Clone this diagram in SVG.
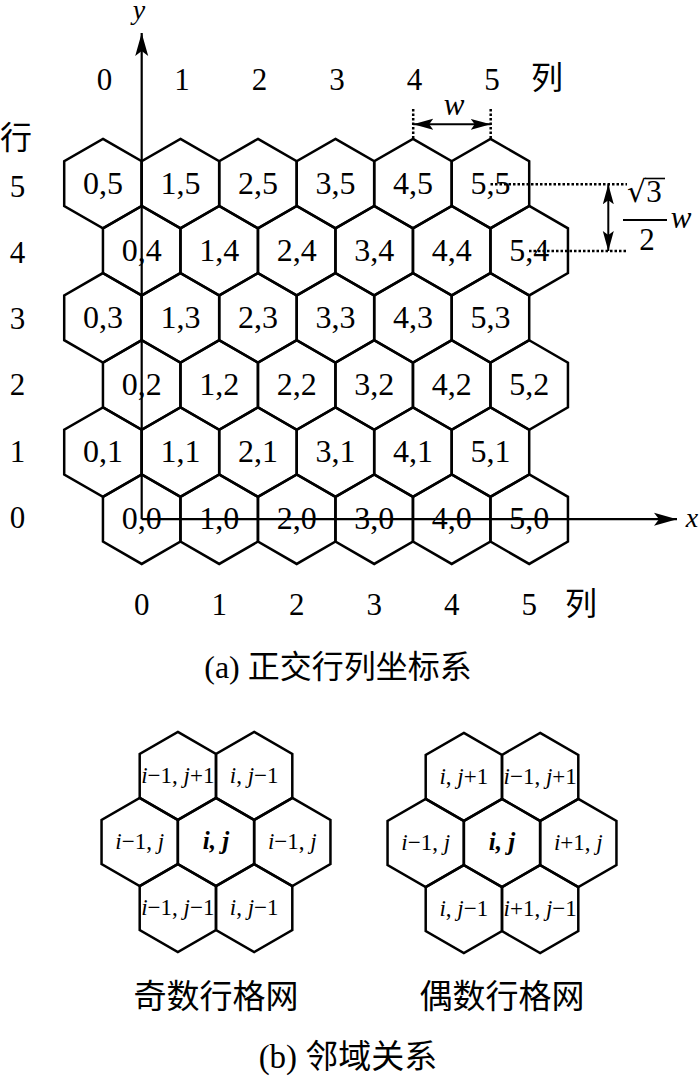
<svg xmlns="http://www.w3.org/2000/svg" xmlns:xlink="http://www.w3.org/1999/xlink" width="700" height="1077" viewBox="0 0 700 1077">
<style>
.hx use{fill:none;stroke:#000;stroke-width:2.5;stroke-linejoin:miter}
text{stroke:none}
.n{font-family:"Liberation Serif",serif;font-size:32px;text-anchor:middle;fill:#000}
.lab{font-family:"Liberation Serif",serif;font-size:31px;text-anchor:middle;fill:#000}
.cjk{font-family:"Liberation Serif","Noto Sans CJK SC",sans-serif;font-size:32px;text-anchor:middle;fill:#000}
.cap{font-family:"Liberation Serif","Noto Sans CJK SC",sans-serif;font-size:33px;text-anchor:middle;fill:#000}
.b{font-family:"Liberation Serif",serif;font-size:23px;text-anchor:middle;fill:#000}
.bc{font-family:"Liberation Serif",serif;font-size:25px;text-anchor:middle;fill:#000;font-weight:bold;font-style:italic}
.it{font-style:italic}
.ax{stroke:#000;stroke-width:2.2;fill:none}
.dim{stroke:#000;stroke-width:2;fill:none}
.dot{stroke:#000;stroke-width:2.5;stroke-dasharray:2.5 2;fill:none}
</style>
<defs>
<polygon id="hex" points="0,-44.75 38.75,-22.37 38.75,22.37 0,44.75 -38.75,22.37 -38.75,-22.37"/>
<polygon id="hexb" points="0,-44.05 38.15,-22.02 38.15,22.02 0,44.05 -38.15,22.02 -38.15,-22.02"/>
<marker id="axA" viewBox="0 0 24 14" markerWidth="24" markerHeight="14" refX="23" refY="7" orient="auto" markerUnits="userSpaceOnUse"><path d="M0,0.5 L23,7 L0,13.5 L5,7 Z" fill="#000"/></marker>
<marker id="dA" viewBox="0 0 21 12" markerWidth="21" markerHeight="12" refX="20" refY="6" orient="auto-start-reverse" markerUnits="userSpaceOnUse"><path d="M0,0.5 L20,6 L0,11.5 L4,6 Z" fill="#000"/></marker>
</defs>
<rect width="700" height="1077" fill="#fff"/>

<!-- (a) grid -->
<g id="grid" class="hx">
<g id="h0_5"><use href="#hex" x="102.95" y="183.6"/><text class="n" x="102.95" y="193.6">0,5</text></g>
<g id="h1_5"><use href="#hex" x="180.45" y="183.6"/><text class="n" x="180.45" y="193.6">1,5</text></g>
<g id="h2_5"><use href="#hex" x="257.95" y="183.6"/><text class="n" x="257.95" y="193.6">2,5</text></g>
<g id="h3_5"><use href="#hex" x="335.45" y="183.6"/><text class="n" x="335.45" y="193.6">3,5</text></g>
<g id="h4_5"><use href="#hex" x="412.95" y="183.6"/><text class="n" x="412.95" y="193.6">4,5</text></g>
<g id="h5_5"><use href="#hex" x="490.45" y="183.6"/><text class="n" x="490.45" y="193.6">5,5</text></g>

<g id="h0_4"><use href="#hex" x="141.7" y="250.7"/><text class="n" x="141.7" y="260.7">0,4</text></g>
<g id="h1_4"><use href="#hex" x="219.2" y="250.7"/><text class="n" x="219.2" y="260.7">1,4</text></g>
<g id="h2_4"><use href="#hex" x="296.7" y="250.7"/><text class="n" x="296.7" y="260.7">2,4</text></g>
<g id="h3_4"><use href="#hex" x="374.2" y="250.7"/><text class="n" x="374.2" y="260.7">3,4</text></g>
<g id="h4_4"><use href="#hex" x="451.7" y="250.7"/><text class="n" x="451.7" y="260.7">4,4</text></g>
<g id="h5_4"><use href="#hex" x="529.2" y="250.7"/><text class="n" x="529.2" y="260.7">5,4</text></g>

<g id="h0_3"><use href="#hex" x="102.95" y="317.8"/><text class="n" x="102.95" y="327.8">0,3</text></g>
<g id="h1_3"><use href="#hex" x="180.45" y="317.8"/><text class="n" x="180.45" y="327.8">1,3</text></g>
<g id="h2_3"><use href="#hex" x="257.95" y="317.8"/><text class="n" x="257.95" y="327.8">2,3</text></g>
<g id="h3_3"><use href="#hex" x="335.45" y="317.8"/><text class="n" x="335.45" y="327.8">3,3</text></g>
<g id="h4_3"><use href="#hex" x="412.95" y="317.8"/><text class="n" x="412.95" y="327.8">4,3</text></g>
<g id="h5_3"><use href="#hex" x="490.45" y="317.8"/><text class="n" x="490.45" y="327.8">5,3</text></g>

<g id="h0_2"><use href="#hex" x="141.7" y="385.0"/><text class="n" x="141.7" y="395">0,2</text></g>
<g id="h1_2"><use href="#hex" x="219.2" y="385.0"/><text class="n" x="219.2" y="395">1,2</text></g>
<g id="h2_2"><use href="#hex" x="296.7" y="385.0"/><text class="n" x="296.7" y="395">2,2</text></g>
<g id="h3_2"><use href="#hex" x="374.2" y="385.0"/><text class="n" x="374.2" y="395">3,2</text></g>
<g id="h4_2"><use href="#hex" x="451.7" y="385.0"/><text class="n" x="451.7" y="395">4,2</text></g>
<g id="h5_2"><use href="#hex" x="529.2" y="385.0"/><text class="n" x="529.2" y="395">5,2</text></g>

<g id="h0_1"><use href="#hex" x="102.95" y="452.1"/><text class="n" x="102.95" y="462.1">0,1</text></g>
<g id="h1_1"><use href="#hex" x="180.45" y="452.1"/><text class="n" x="180.45" y="462.1">1,1</text></g>
<g id="h2_1"><use href="#hex" x="257.95" y="452.1"/><text class="n" x="257.95" y="462.1">2,1</text></g>
<g id="h3_1"><use href="#hex" x="335.45" y="452.1"/><text class="n" x="335.45" y="462.1">3,1</text></g>
<g id="h4_1"><use href="#hex" x="412.95" y="452.1"/><text class="n" x="412.95" y="462.1">4,1</text></g>
<g id="h5_1"><use href="#hex" x="490.45" y="452.1"/><text class="n" x="490.45" y="462.1">5,1</text></g>

<g id="h0_0"><use href="#hex" x="141.7" y="519.2"/><text class="n" x="141.7" y="529.2">0,0</text></g>
<g id="h1_0"><use href="#hex" x="219.2" y="519.2"/><text class="n" x="219.2" y="529.2">1,0</text></g>
<g id="h2_0"><use href="#hex" x="296.7" y="519.2"/><text class="n" x="296.7" y="529.2">2,0</text></g>
<g id="h3_0"><use href="#hex" x="374.2" y="519.2"/><text class="n" x="374.2" y="529.2">3,0</text></g>
<g id="h4_0"><use href="#hex" x="451.7" y="519.2"/><text class="n" x="451.7" y="529.2">4,0</text></g>
<g id="h5_0"><use href="#hex" x="529.2" y="519.2"/><text class="n" x="529.2" y="529.2">5,0</text></g>
</g>

<!-- connectors: axes and dimensions -->
<g id="connectors">
<line class="ax" x1="141.7" y1="519.2" x2="141.7" y2="33" marker-end="url(#axA)"/>
<line class="ax" x1="141.7" y1="519.2" x2="677" y2="519.2" marker-end="url(#axA)"/>
<line class="dot" x1="413.2" y1="109" x2="413.2" y2="139"/>
<line class="dot" x1="490.7" y1="109" x2="490.7" y2="139"/>
<line class="dim" x1="413.2" y1="124.3" x2="490.7" y2="124.3" marker-start="url(#dA)" marker-end="url(#dA)"/>
<line class="dot" x1="490.5" y1="184.3" x2="627" y2="184.3"/>
<line class="dot" x1="529" y1="251" x2="627" y2="251"/>
<line class="dim" x1="608.3" y1="184.3" x2="608.3" y2="251" marker-start="url(#dA)" marker-end="url(#dA)"/>
<line class="dim" x1="623" y1="220" x2="667" y2="220"/>
</g>

<!-- axis labels -->
<g id="labels">
<text class="lab it" x="139" y="19" style="font-size:28px">y</text>
<text class="lab it" x="692" y="527" style="font-size:28px">x</text>
<text class="lab it" x="454" y="115" style="font-size:31px">w</text>
<g id="frac">
<text class="lab" x="627" y="202" style="font-size:31px;text-anchor:start"><tspan style="font-family:'DejaVu Serif',serif;font-size:30px">√</tspan>3</text>
<line class="dim" x1="645" y1="178.5" x2="665" y2="178.5" style="stroke-width:1.6"/>
<text class="lab" x="647" y="250" style="font-size:31px">2</text>
<text class="lab it" x="681" y="228" style="font-size:31px">w</text>
</g>

<text class="lab" x="104.5" y="90">0</text>
<text class="lab" x="182" y="90">1</text>
<text class="lab" x="259.5" y="90">2</text>
<text class="lab" x="337" y="90">3</text>
<text class="lab" x="414.5" y="90">4</text>
<text class="lab" x="492" y="90">5</text>
<text class="cjk" x="547" y="89">列</text>

<text class="lab" x="141.7" y="615">0</text>
<text class="lab" x="219.2" y="615">1</text>
<text class="lab" x="296.7" y="615">2</text>
<text class="lab" x="374.2" y="615">3</text>
<text class="lab" x="451.7" y="615">4</text>
<text class="lab" x="529.2" y="615">5</text>
<text class="cjk" x="581" y="615">列</text>

<text class="cjk" x="16" y="149">行</text>
<text class="lab" x="17.5" y="197">5</text>
<text class="lab" x="17.5" y="263">4</text>
<text class="lab" x="17.5" y="329">3</text>
<text class="lab" x="17.5" y="395">2</text>
<text class="lab" x="17.5" y="462">1</text>
<text class="lab" x="17.5" y="528">0</text>

<text class="cap" x="338" y="678" style="font-size:32px">(a) 正交行列坐标系</text>
</g>

<!-- (b) odd row cluster -->
<g id="odd" class="hx">
<g id="o_tl"><use href="#hexb" x="177.85" y="775.9"/><text class="b" x="177.85" y="783"><tspan class="it">i</tspan>−1, <tspan class="it">j</tspan>+1</text></g>
<g id="o_tr"><use href="#hexb" x="254.15" y="775.9"/><text class="b" x="254.15" y="783"><tspan class="it">i</tspan>, <tspan class="it">j</tspan>−1</text></g>
<g id="o_ml"><use href="#hexb" x="139.7" y="842"/><text class="b" x="139.7" y="849"><tspan class="it">i</tspan>−1, <tspan class="it">j</tspan></text></g>
<g id="o_c"><use href="#hexb" x="216" y="842"/><text class="bc" x="216" y="849">i, j</text></g>
<g id="o_mr"><use href="#hexb" x="292.3" y="842"/><text class="b" x="292.3" y="849"><tspan class="it">i</tspan>−1, <tspan class="it">j</tspan></text></g>
<g id="o_bl"><use href="#hexb" x="177.85" y="908.1"/><text class="b" x="177.85" y="915"><tspan class="it">i</tspan>−1, <tspan class="it">j</tspan>−1</text></g>
<g id="o_br"><use href="#hexb" x="254.15" y="908.1"/><text class="b" x="254.15" y="915"><tspan class="it">i</tspan>, <tspan class="it">j</tspan>−1</text></g>
</g>

<!-- (b) even row cluster -->
<g id="even" class="hx">
<g id="e_tl"><use href="#hexb" x="463.85" y="776.9"/><text class="b" x="463.85" y="784"><tspan class="it">i</tspan>, <tspan class="it">j</tspan>+1</text></g>
<g id="e_tr"><use href="#hexb" x="540.15" y="776.9"/><text class="b" x="540.15" y="784"><tspan class="it">i</tspan>−1, <tspan class="it">j</tspan>+1</text></g>
<g id="e_ml"><use href="#hexb" x="425.7" y="843"/><text class="b" x="425.7" y="850"><tspan class="it">i</tspan>−1, <tspan class="it">j</tspan></text></g>
<g id="e_c"><use href="#hexb" x="502" y="843"/><text class="bc" x="502" y="850">i, j</text></g>
<g id="e_mr"><use href="#hexb" x="578.3" y="843"/><text class="b" x="578.3" y="850"><tspan class="it">i</tspan>+1, <tspan class="it">j</tspan></text></g>
<g id="e_bl"><use href="#hexb" x="463.85" y="909.1"/><text class="b" x="463.85" y="916"><tspan class="it">i</tspan>, <tspan class="it">j</tspan>−1</text></g>
<g id="e_br"><use href="#hexb" x="540.15" y="909.1"/><text class="b" x="540.15" y="916"><tspan class="it">i</tspan>+1, <tspan class="it">j</tspan>−1</text></g>
</g>

<g id="captions">
<text class="cap" x="216" y="1008">奇数行格网</text>
<text class="cap" x="502" y="1008">偶数行格网</text>
<text class="cap" x="348" y="1068">(b) 邻域关系</text>
</g>
</svg>
